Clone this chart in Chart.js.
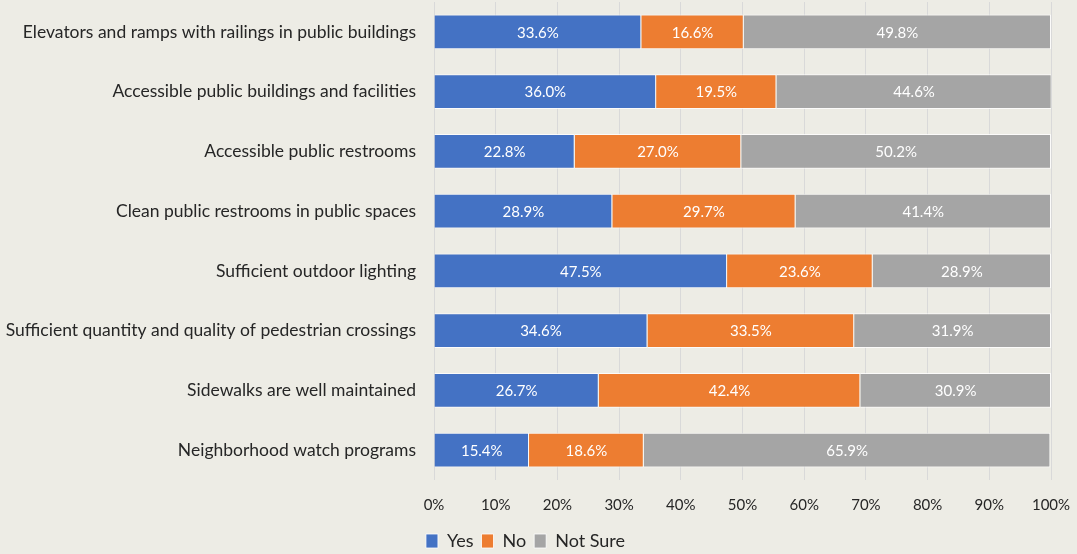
<!DOCTYPE html>
<html>
<head>
<meta charset="utf-8">
<script src="https://cdn.jsdelivr.net/npm/chart.js@4/dist/chart.umd.min.js"></script>
<style>
  html, body { margin: 0; padding: 0; background: #edece5; }
  #wrap { width: 1077px; height: 554px; position: relative; }
</style>
</head>
<body>
<div id="wrap"><canvas id="chart"></canvas></div>
<script>
const categories = [
  "Elevators and ramps with railings in public buildings",
  "Accessible public buildings and facilities",
  "Accessible public restrooms",
  "Clean public restrooms in public spaces",
  "Sufficient outdoor lighting",
  "Sufficient quantity and quality of pedestrian crossings",
  "Sidewalks are well maintained",
  "Neighborhood watch programs"
];
const yesValues = [33.6, 36.0, 22.8, 28.9, 47.5, 34.6, 26.7, 15.4];
const noValues = [16.6, 19.5, 27.0, 29.7, 23.6, 33.5, 42.4, 18.6];
const notSureValues = [49.8, 44.6, 50.2, 41.4, 28.9, 31.9, 30.9, 65.9];
const xTicks = [0, 10, 20, 30, 40, 50, 60, 70, 80, 90, 100];

const FONT = "Lato, 'Open Sans', sans-serif";

// white percentage labels in the middle of each segment
const barLabels = {
  id: "barLabels",
  afterDatasetsDraw(chart) {
    const ctx = chart.ctx;
    ctx.save();
    ctx.fillStyle = "#ffffff";
    ctx.font = "15px " + FONT;
    ctx.textAlign = "center";
    ctx.textBaseline = "middle";
    chart.data.datasets.forEach((ds, i) => {
      chart.getDatasetMeta(i).data.forEach((bar, j) => {
        const cx = (bar.x + bar.base) / 2;
        ctx.fillText(ds.data[j].toFixed(1) + "%", cx, bar.y + 1);
      });
    });
    ctx.restore();
  }
};

new Chart(document.getElementById("chart"), {
  type: "bar",
  data: {
    labels: categories,
    datasets: [
      { label: "Yes", data: yesValues, backgroundColor: "#4472c4" },
      { label: "No", data: noValues, backgroundColor: "#ed7d31" },
      { label: "Not Sure", data: notSureValues, backgroundColor: "#a5a5a5" }
    ].map(d => Object.assign(d, {
      borderColor: "rgba(255,255,255,0.8)",
      borderWidth: 1,
      barPercentage: 0.58,
      categoryPercentage: 1
    }))
  },
  options: {
    indexAxis: "y",
    responsive: true,
    maintainAspectRatio: false,
    animation: false,
    layout: { padding: { top: 2, right: 26, bottom: -6, left: 0 } },
    plugins: {
      legend: {
        position: "bottom",
        labels: {
          color: "#262626",
          font: { family: FONT, size: 18 },
          boxWidth: 12,
          boxHeight: 14,
          padding: 8
        }
      },
      tooltip: { enabled: false }
    },
    scales: {
      x: {
        stacked: true,
        min: 0,
        max: 100,
        afterBuildTicks: s => { s.ticks = xTicks.map(v => ({ value: v })); },
        // fixed axis band so the plot ends where the original's does
        afterFit: s => { s.height = 44; s.paddingLeft = 0; s.paddingRight = 0; },
        ticks: {
          color: "#262626",
          font: { family: FONT, size: 15 },
          padding: 16,
          callback: v => v + "%"
        },
        grid: { color: "#d9d9d9", drawTicks: false },
        border: { display: false }
      },
      y: {
        stacked: true,
        afterFit: s => { s.width = 434; s.paddingTop = 0; s.paddingBottom = 0; },
        ticks: {
          color: "#262626",
          font: { family: FONT, size: 17.5 },
          padding: 18
        },
        grid: { display: false, drawTicks: false },
        border: { display: false }
      }
    }
  },
  plugins: [barLabels]
});
</script>
</body>
</html>
